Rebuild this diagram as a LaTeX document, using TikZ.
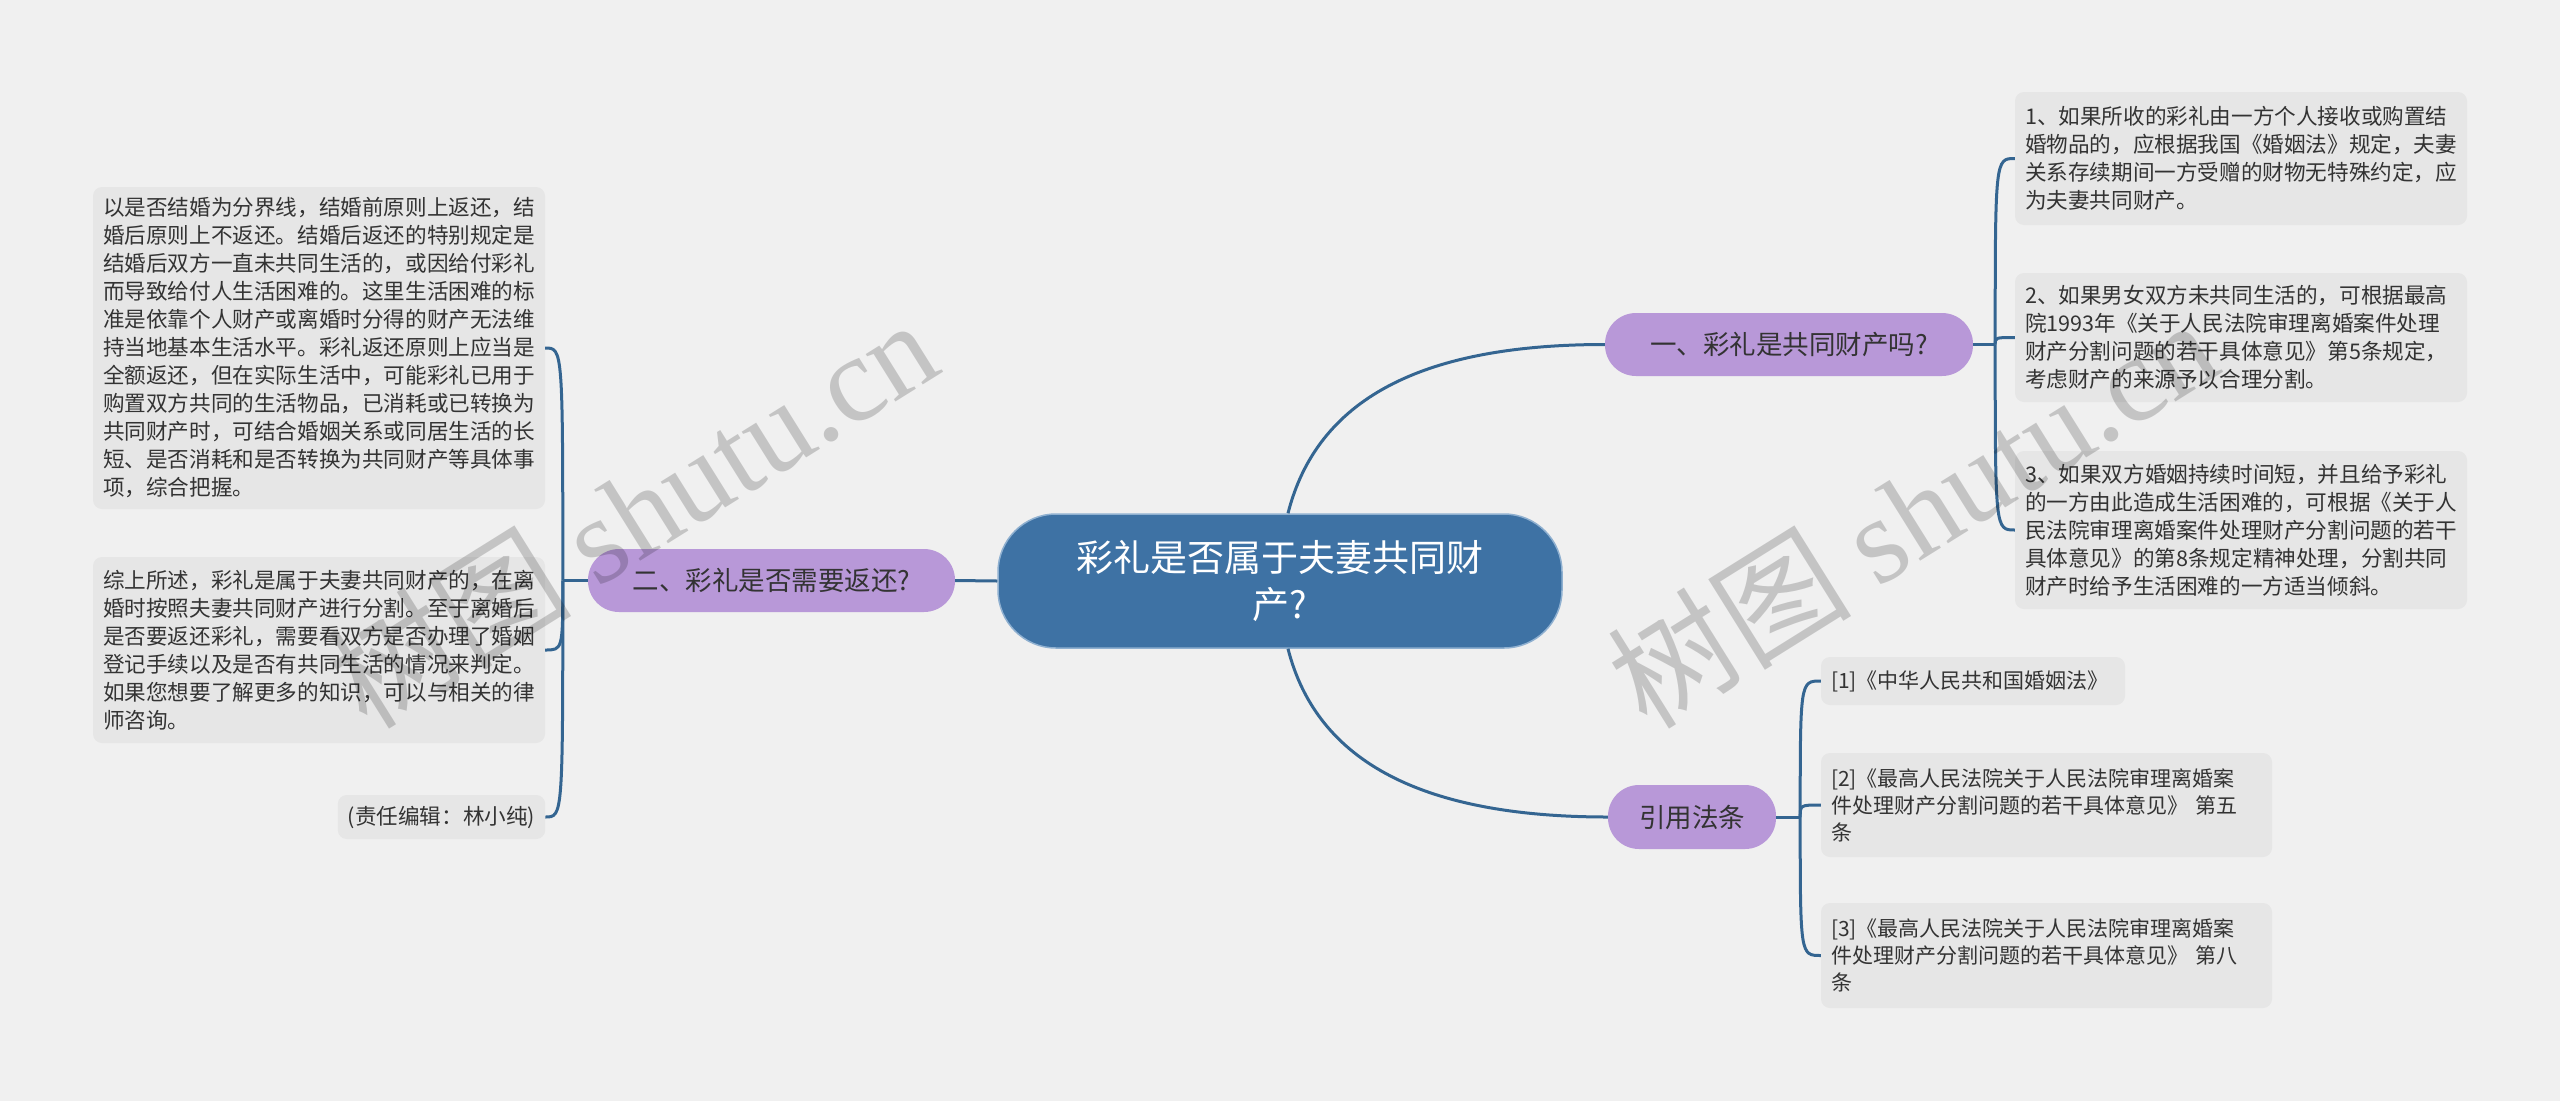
\documentclass[tikz,border=0pt]{standalone}
\usepackage{fontspec}
\setmainfont{Noto Sans CJK SC}
\newfontfamily\wmlatin{Liberation Serif}
\definecolor{bgc}{HTML}{F0F0F0}
\definecolor{leafc}{HTML}{E6E6E6}
\definecolor{rootc}{HTML}{3E72A4}
\definecolor{rootedge}{HTML}{8FB0D0}
\definecolor{purp}{HTML}{B898D8}
\definecolor{linec}{HTML}{346591}
\definecolor{txt}{HTML}{333333}
\begin{document}
\begin{tikzpicture}[x=1pt,y=-1pt,
  leaf/.style={rectangle, rounded corners=9pt, fill=leafc, text=txt, align=left,
    inner xsep=10pt, inner ysep=0pt, text width=432pt, minimum width=452pt,
    font=\fontsize{21.6pt}{28pt}\selectfont},
  cite/.style={rectangle, rounded corners=9pt, fill=leafc, text=txt, align=left,
    inner xsep=10pt, inner ysep=0pt,
    font=\fontsize{21pt}{27pt}\selectfont},
  branch/.style={rectangle, rounded corners=31pt, fill=purp, text=txt, align=center,
    inner sep=0pt, minimum height=63pt, font=\fontsize{26.5pt}{32pt}\selectfont},
  rootnode/.style={rectangle, rounded corners=58pt, fill=rootc, draw=rootedge, line width=1.5pt,
    text=white, align=center, inner sep=0pt, minimum width=564pt, minimum height=134pt,
    font=\fontsize{37pt}{47pt}\selectfont},
  conn/.style={draw=linec, line width=3pt},
  wm/.style={rotate=32, text=black, opacity=0.18, inner sep=0pt}
]
\useasboundingbox (0,0) rectangle (2560,1101);
\fill[bgc] (0,0) rectangle (2560,1101);

% central topic
\node[rootnode] (root) at (1280,581) {彩礼是否属于夫妻共同财\\产?};

% main branches
\node[branch, minimum width=368pt] (b1) at (1789,344.5) {一、彩礼是共同财产吗?};
\node[branch, minimum width=367pt] (b2) at (771.5,580.5) {二、彩礼是否需要返还?};
\node[branch, minimum width=168pt, minimum height=64pt] (b3) at (1692,817) {引用法条};

% right leaves of branch 1
\node[leaf, minimum height=133pt] (r1) at (2241,158.5) {1、如果所收的彩礼由一方个人接收或购置结\\婚物品的，应根据我国《婚姻法》规定，夫妻\\关系存续期间一方受赠的财物无特殊约定，应\\为夫妻共同财产。};
\node[leaf, minimum height=129pt] (r2) at (2241,337.5) {2、如果男女双方未共同生活的，可根据最高\\院1993年《关于人民法院审理离婚案件处理\\财产分割问题的若干具体意见》第5条规定，\\考虑财产的来源予以合理分割。};
\node[leaf, minimum height=158pt] (r3) at (2241,530) {3、如果双方婚姻持续时间短，并且给予彩礼\\的一方由此造成生活困难的，可根据《关于人\\民法院审理离婚案件处理财产分割问题的若干\\具体意见》的第8条规定精神处理，分割共同\\财产时给予生活困难的一方适当倾斜。};

% left leaves of branch 2
\node[leaf, minimum height=322pt] (l1) at (319,348) {以是否结婚为分界线，结婚前原则上返还，结\\婚后原则上不返还。结婚后返还的特别规定是\\结婚后双方一直未共同生活的，或因给付彩礼\\而导致给付人生活困难的。这里生活困难的标\\准是依靠个人财产或离婚时分得的财产无法维\\持当地基本生活水平。彩礼返还原则上应当是\\全额返还，但在实际生活中，可能彩礼已用于\\购置双方共同的生活物品，已消耗或已转换为\\共同财产时，可结合婚姻关系或同居生活的长\\短、是否消耗和是否转换为共同财产等具体事\\项，综合把握。};
\node[leaf, minimum height=186pt] (l2) at (319,650) {综上所述，彩礼是属于夫妻共同财产的，在离\\婚时按照夫妻共同财产进行分割。至于离婚后\\是否要返还彩礼，需要看双方是否办理了婚姻\\登记手续以及是否有共同生活的情况来判定。\\如果您想要了解更多的知识，可以与相关的律\\师咨询。};
\node[cite, minimum width=207pt, minimum height=44pt, font=\fontsize{21.6pt}{28pt}\selectfont] (l3) at (441.5,817) {(责任编辑：林小纯)};

% citations of branch 3
\node[cite, minimum width=304pt, minimum height=48pt, text width=284pt] (c1) at (1973,681) {[1]《中华人民共和国婚姻法》};
\node[cite, minimum width=451pt, minimum height=104pt, text width=431pt] (c2) at (2046.5,805) {[2]《最高人民法院关于人民法院审理离婚案\\件处理财产分割问题的若干具体意见》 第五\\条};
\node[cite, minimum width=451pt, minimum height=105pt, text width=431pt] (c3) at (2046.5,955.5) {[3]《最高人民法院关于人民法院审理离婚案\\件处理财产分割问题的若干具体意见》 第八\\条};

% spine points
\coordinate (s1) at ([xshift=22pt]b1.east);
\coordinate (s2) at ([xshift=-25pt]b2.west);
\coordinate (s3) at ([xshift=24pt]b3.east);

% root connectors
\draw[conn] ([xshift=8pt]root.north) .. controls +(29,-114) and +(-184,0) .. (b1.west);
\draw[conn] ([xshift=8pt]root.south) .. controls +(29,114) and +(-184,0) .. (b3.west);
\draw[conn] (root.west) -- (b2.east);

% branch 1 connectors
\draw[conn] (b1.east) -- (s1);
\draw[conn] (s1) .. controls (s1 |- r1.west) .. (r1.west);
\draw[conn] (s1) .. controls (s1 |- r2.west) .. (r2.west);
\draw[conn] (s1) .. controls (s1 |- r3.west) .. (r3.west);

% branch 2 connectors
\draw[conn] (b2.west) -- (s2);
\draw[conn] (s2) .. controls (s2 |- l1.east) .. (l1.east);
\draw[conn] (s2) .. controls (s2 |- l2.east) .. (l2.east);
\draw[conn] (s2) .. controls (s2 |- l3.east) .. (l3.east);

% branch 3 connectors
\draw[conn] (b3.east) -- (s3);
\draw[conn] (s3) .. controls (s3 |- c1.west) .. (c1.west);
\draw[conn] (s3) .. controls (s3 |- c2.west) .. (c2.west);
\draw[conn] (s3) .. controls (s3 |- c3.west) .. (c3.west);

% watermarks
\node[wm] (wm1) at (632,512) {\fontsize{122pt}{122pt}\selectfont 树图 {\wmlatin shutu.cn}};
\node[wm] (wm2) at (1912,512) {\fontsize{122pt}{122pt}\selectfont 树图 {\wmlatin shutu.cn}};
\end{tikzpicture}
\end{document}
